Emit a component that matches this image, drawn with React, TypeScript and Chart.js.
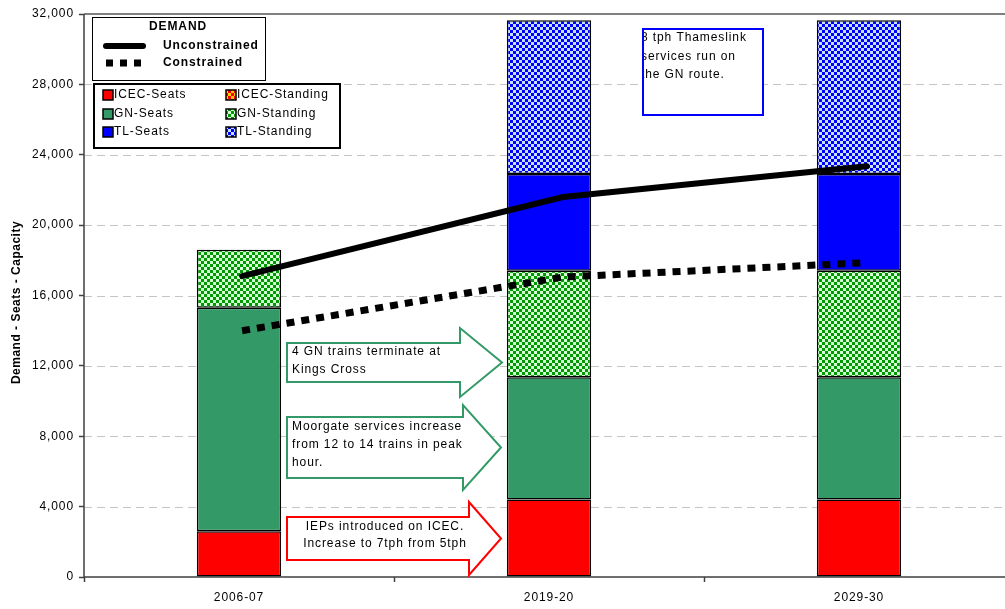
import React, { useEffect, useRef } from 'react';
import { Chart, registerables } from 'chart.js';

Chart.register(...registerables);

// ---- data -------------------------------------------------------------
const categories = ['2006-07', '2019-20', '2029-30'];

// capacity layers (stacked, bottom to top)
const icecSeats = [2600, 4400, 4400];
const icecStanding = [0, 0, 0];
const gnSeats = [12700, 6950, 6950];
const gnStanding = [3300, 6050, 6050];
const tlSeats = [0, 5500, 5500];
const tlStanding = [0, 8750, 8750];

// demand lines, placed along the category axis (0 = 2006-07 … 2 = 2029-30)
const unconstrainedX = [0.01, 1.045, 2.025];
const unconstrained = [17100, 21600, 23350];
const constrainedX = [0.01, 1.045, 2.005];
const constrained = [14000, 17050, 17850];

// value axis
const yMin = 0;
const yMax = 32000;
const yStep = 4000;

// ---- styling ----------------------------------------------------------
const FONT = '"Liberation Sans", Arial, Helvetica, sans-serif';
const GN_GREEN = '#339966';

function checker(c1: string, c2: string, cell: number): CanvasPattern | string {
  const c = document.createElement('canvas');
  c.width = cell * 2;
  c.height = cell * 2;
  const g = c.getContext('2d');
  if (!g) return c1;
  g.fillStyle = c2;
  g.fillRect(0, 0, cell * 2, cell * 2);
  g.fillStyle = c1;
  g.fillRect(0, 0, cell, cell);
  g.fillRect(cell, cell, cell, cell);
  return g.createPattern(c, 'repeat') || c1;
}

type Arrow = {
  x0: number; y0: number; x1: number; y1: number;
  headTop: number; headBottom: number; tipX: number;
  color: string; lines: string[]; textX: number; lineYs: number[]; align: CanvasTextAlign;
};

const arrows: Arrow[] = [
  {
    x0: 287, y0: 343, x1: 460, y1: 382, headTop: 328, headBottom: 397, tipX: 502,
    color: GN_GREEN, lines: ['4 GN trains terminate at', 'Kings Cross'],
    textX: 292, lineYs: [352, 370], align: 'left',
  },
  {
    x0: 287, y0: 417, x1: 463, y1: 478, headTop: 405, headBottom: 490, tipX: 501,
    color: GN_GREEN, lines: ['Moorgate services increase', 'from 12 to 14 trains in peak', 'hour.'],
    textX: 292, lineYs: [427, 445, 463], align: 'left',
  },
  {
    x0: 287, y0: 517, x1: 469, y1: 560, headTop: 502, headBottom: 575, tipX: 501,
    color: '#ff0000', lines: ['IEPs introduced on ICEC.', 'Increase to 7tph from 5tph'],
    textX: 385, lineYs: [527, 544], align: 'center',
  },
];

const thameslinkNote = ['8 tph Thameslink', 'services run on', 'the GN route.'];

export default function App() {
  const ref = useRef<HTMLCanvasElement>(null);

  useEffect(() => {
    const canvas = ref.current;
    if (!canvas) return;

    const icecStandFill = checker('#ff0000', '#ffcc00', 3);
    const gnStandFill = checker('#009900', '#d4ffd4', 3);
    const tlStandFill = checker('#0000ff', '#c8e0ff', 3);

    const barSeries = [
      { label: 'ICEC-Seats', data: icecSeats, fill: '#ff0000' as any },
      { label: 'ICEC-Standing', data: icecStanding, fill: icecStandFill },
      { label: 'GN-Seats', data: gnSeats, fill: GN_GREEN },
      { label: 'GN-Standing', data: gnStanding, fill: gnStandFill },
      { label: 'TL-Seats', data: tlSeats, fill: '#0000ff' },
      { label: 'TL-Standing', data: tlStanding, fill: tlStandFill },
    ];

    const barDatasets = barSeries.map((s) => ({
      type: 'bar' as const,
      label: s.label,
      data: s.data.map((v) => (v === 0 ? null : v)),
      backgroundColor: s.fill,
      borderColor: '#000000',
      borderWidth: 1.5,
      borderSkipped: false,
      xAxisID: 'x',
      yAxisID: 'y',
      grouped: false,
      categoryPercentage: 1,
      barPercentage: 0.272,
      order: 1,
    }));

    const lineDatasets = [
      {
        type: 'line' as const,
        label: 'Unconstrained',
        data: unconstrainedX.map((x, i) => ({ x, y: unconstrained[i] })),
        borderColor: '#000000',
        borderWidth: 6,
        borderCapStyle: 'round' as const,
        pointRadius: 0,
        tension: 0,
        fill: false,
        xAxisID: 'xl',
        yAxisID: 'yl',
        order: 0,
      },
      {
        type: 'line' as const,
        label: 'Constrained',
        data: constrainedX.map((x, i) => ({ x, y: constrained[i] })),
        borderColor: '#000000',
        borderWidth: 7,
        borderDash: [8, 7],
        borderCapStyle: 'butt' as const,
        pointRadius: 0,
        tension: 0,
        fill: false,
        xAxisID: 'xl',
        yAxisID: 'yl',
        order: 0,
      },
    ];

    const overlay = {
      id: 'overlay',
      beforeDraw(chart: any) {
        chart.ctx.letterSpacing = '0.9px';
      },
      beforeDatasetsDraw(chart: any) {
        const { ctx, chartArea: a, scales } = chart;
        const y = scales.y;
        ctx.save();
        // dashed horizontal grid
        ctx.strokeStyle = '#c4c4c4';
        ctx.lineWidth = 1;
        ctx.setLineDash([8, 5]);
        for (let v = yMin + yStep; v < yMax; v += yStep) {
          const py = Math.round(y.getPixelForValue(v)) + 0.5;
          ctx.beginPath();
          ctx.moveTo(a.left, py);
          ctx.lineTo(a.right, py);
          ctx.stroke();
        }
        ctx.setLineDash([]);
        // plot frame: grey top edge, dark axes
        ctx.strokeStyle = '#808080';
        ctx.lineWidth = 2;
        ctx.beginPath();
        ctx.moveTo(a.left, a.top);
        ctx.lineTo(a.right, a.top);
        ctx.stroke();
        ctx.strokeStyle = '#404040';
        ctx.lineWidth = 1.5;
        ctx.beginPath();
        ctx.moveTo(a.left, a.top);
        ctx.lineTo(a.left, a.bottom);
        ctx.lineTo(a.right, a.bottom);
        ctx.stroke();
        ctx.restore();
      },
      afterDraw(chart: any) {
        const { ctx, chartArea: a } = chart;
        const ds = chart.data.datasets;
        ctx.save();
        ctx.fillStyle = '#000';
        ctx.textBaseline = 'middle';

        // y axis title
        ctx.save();
        ctx.letterSpacing = '0.5px';
        ctx.font = `bold 12px ${FONT}`;
        ctx.translate(17, (a.top + a.bottom) / 2 + 7);
        ctx.rotate(-Math.PI / 2);
        ctx.textAlign = 'center';
        ctx.fillText('Demand - Seats - Capacity', 0, 0);
        ctx.restore();

        // demand legend
        ctx.fillStyle = '#fff';
        ctx.fillRect(92, 17, 173, 63);
        ctx.strokeStyle = '#000';
        ctx.lineWidth = 1;
        ctx.strokeRect(92.5, 17.5, 173, 63);
        ctx.fillStyle = '#000';
        ctx.font = `bold 12px ${FONT}`;
        ctx.textAlign = 'center';
        ctx.fillText('DEMAND', 178, 27);
        ctx.textAlign = 'left';
        const uncon = ds.find((d: any) => d.label === 'Unconstrained');
        const con = ds.find((d: any) => d.label === 'Constrained');
        ctx.lineWidth = 6;
        ctx.lineCap = 'round';
        ctx.beginPath();
        ctx.moveTo(106, 46);
        ctx.lineTo(143, 46);
        ctx.stroke();
        ctx.fillText(uncon.label, 163, 46);
        ctx.lineCap = 'butt';
        ctx.lineWidth = 7;
        ctx.setLineDash([7, 7]);
        ctx.beginPath();
        ctx.moveTo(106, 63);
        ctx.lineTo(142, 63);
        ctx.stroke();
        ctx.setLineDash([]);
        ctx.fillText(con.label, 163, 63);

        // capacity legend
        ctx.fillStyle = '#fff';
        ctx.fillRect(93, 83, 247, 65);
        ctx.strokeStyle = '#000';
        ctx.lineWidth = 2;
        ctx.strokeRect(94, 84, 246, 64);
        ctx.font = `12px ${FONT}`;
        const bars = ds.filter((d: any) => d.type === 'bar');
        const rowsY = [95, 114, 132];
        bars.forEach((d: any, i: number) => {
          const col = i % 2;
          const row = Math.floor(i / 2);
          const sx = col === 0 ? 103 : 226;
          const sy = rowsY[row];
          ctx.fillStyle = d.backgroundColor;
          ctx.fillRect(sx, sy - 5, 10, 10);
          ctx.strokeStyle = '#000';
          ctx.lineWidth = 1.5;
          ctx.strokeRect(sx, sy - 5, 10, 10);
          ctx.fillStyle = '#000';
          ctx.fillText(d.label, sx + 11, sy);
        });

        // annotation arrows
        arrows.forEach((ar) => {
          const mid = (ar.y0 + ar.y1) / 2;
          ctx.beginPath();
          ctx.moveTo(ar.x0, ar.y0);
          ctx.lineTo(ar.x1, ar.y0);
          ctx.lineTo(ar.x1, ar.headTop);
          ctx.lineTo(ar.tipX, mid);
          ctx.lineTo(ar.x1, ar.headBottom);
          ctx.lineTo(ar.x1, ar.y1);
          ctx.lineTo(ar.x0, ar.y1);
          ctx.closePath();
          ctx.fillStyle = '#fff';
          ctx.fill();
          ctx.strokeStyle = ar.color;
          ctx.lineWidth = 2;
          ctx.lineJoin = 'miter';
          ctx.stroke();
          ctx.fillStyle = '#000';
          ctx.font = `12px ${FONT}`;
          ctx.textAlign = ar.align;
          ar.lines.forEach((t, i) => ctx.fillText(t, ar.textX, ar.lineYs[i]));
        });

        // Thameslink note
        ctx.fillStyle = '#fff';
        ctx.fillRect(642, 28, 121, 87);
        ctx.save();
        ctx.beginPath();
        ctx.rect(644, 28, 119, 87);
        ctx.clip();
        ctx.fillStyle = '#000';
        ctx.textAlign = 'left';
        ctx.font = `12px ${FONT}`;
        const noteYs = [38, 57, 75];
        thameslinkNote.forEach((t, i) => ctx.fillText(t, 641, noteYs[i]));
        ctx.restore();
        ctx.strokeStyle = '#0000ff';
        ctx.lineWidth = 2;
        ctx.strokeRect(643, 29, 120, 86);

        ctx.restore();
      },
    };

    const chart = new Chart(canvas, {
      type: 'bar',
      data: {
        labels: categories,
        datasets: [...lineDatasets, ...barDatasets] as any,
      },
      options: {
        responsive: false,
        animation: false,
        devicePixelRatio: 1,
        layout: { padding: { left: 0, top: 14, right: 6, bottom: 0 } },
        plugins: {
          legend: { display: false },
          tooltip: { enabled: false },
          title: { display: false },
        },
        scales: {
          x: {
            type: 'category',
            stacked: true,
            offset: true,
            grid: {
              display: true,
              offset: true,
              drawOnChartArea: false,
              drawTicks: true,
              tickLength: 5,
              tickColor: '#404040',
              tickWidth: 1.5,
            },
            border: { display: false },
            ticks: {
              color: '#000',
              font: { family: FONT, size: 12 },
              padding: 8,
              maxRotation: 0,
            },
            afterFit(scale: any) {
              scale.height = 32;
            },
          },
          y: {
            type: 'linear',
            stacked: true,
            min: yMin,
            max: yMax,
            grid: {
              display: true,
              drawOnChartArea: false,
              drawTicks: true,
              tickLength: 5,
              tickColor: '#404040',
              tickWidth: 1.5,
            },
            border: { display: false },
            ticks: {
              stepSize: yStep,
              color: '#000',
              font: { family: FONT, size: 12 },
              padding: 5,
              callback: (v: any) => Number(v).toLocaleString('en-US'),
            },
            afterFit(scale: any) {
              scale.width = 84;
            },
          },
          xl: {
            type: 'linear',
            display: false,
            offset: false,
            min: -0.5,
            max: 2.5,
          },
          yl: {
            type: 'linear',
            display: false,
            min: yMin,
            max: yMax,
          },
        },
      },
      plugins: [overlay],
    } as any);

    return () => chart.destroy();
  }, []);

  return (
    <div
      style={{
        position: 'fixed',
        left: 0,
        top: 0,
        width: 1005,
        height: 609,
        overflow: 'hidden',
        background: '#ffffff',
      }}
    >
      <canvas ref={ref} width={1020} height={609} style={{ display: 'block' }} />
    </div>
  );
}
